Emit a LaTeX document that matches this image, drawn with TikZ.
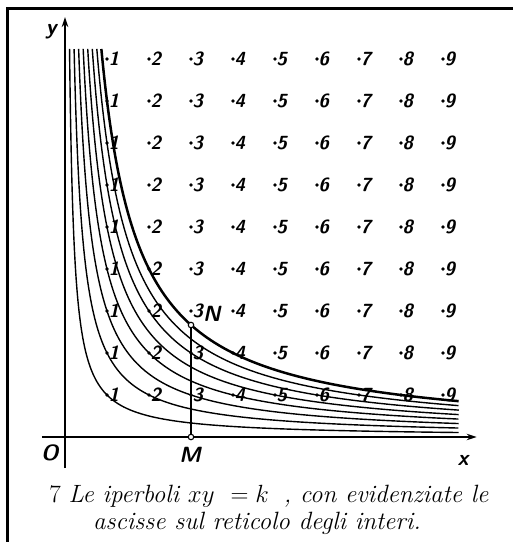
\documentclass[tikz,border=0pt]{standalone}
\usepackage{fontspec}
\usetikzlibrary{arrows.meta}
\newcommand{\bigmath}[1]{{\fontsize{30}{30}\selectfont$#1$}}
\begin{document}
\begin{tikzpicture}[x=1pt,y=1pt,
  digit/.style={font=\fontsize{19}{19}\selectfont\sffamily\bfseries\itshape, inner sep=0pt, anchor=west},
  axlab/.style={font=\fontsize{22}{22}\selectfont\sffamily\bfseries\itshape, inner sep=0pt},
  curve/.style={line width=1.4pt},
  thickcurve/.style={line width=2.5pt},
  axis/.style={line width=1.9pt, -{Stealth[length=10pt,width=6.5pt]}},
  hollow/.style={circle, draw, line width=1.1pt, fill=white, inner sep=0pt, minimum size=5.5pt},
  caption/.style={font=\fontsize{25}{29}\selectfont, inner sep=0pt}]
\useasboundingbox (0,0) rectangle (513,542);
% frame
\draw[line width=2.8pt] (7.3,-2) -- (7.3,533.3) -- (515,533.3);
\begin{scope}[shift={(65,105)}, x=42pt, y=42pt]
  % hyperbolas xy = k
  \foreach \k in {1,...,7}{
    \draw[curve, variable=\t, domain={ln(\k/9.24)}:{ln(9.38)}, samples=90, smooth]
      plot ({exp(\t)},{\k/exp(\t)});
  }
  \draw[thickcurve, variable=\t, domain={ln(8/9.24)}:{ln(9.38)}, samples=90, smooth]
      plot ({exp(\t)},{8/exp(\t)});
  % axes
  \coordinate (xs) at (-0.55,0);
  \coordinate (xe) at (9.8,0);
  \coordinate (ys) at (0,-0.74);
  \coordinate (ye) at (0,10.0);
  \draw[axis] (xs) -- (xe);
  \draw[axis] (ys) -- (ye);
  \node[axlab] (ylab) at (-0.33,9.64) {y};
  \node[axlab] (olab) at (-0.36,-0.38) {O};
  \node[axlab] (mlab) at (2.98,-0.42) {M};
  \node[axlab] (xlab) at (9.48,-0.55) {x};
  % lattice labels
  \foreach \i in {1,...,9}{
    \foreach \j in {1,...,9}{
      \fill (\i,\j) circle (1.8pt);
      \node[digit] (l-\i-\j) at ([xshift=1.5pt]\i,\j) {\i};
    }
  }
  % M and N
  \node[hollow] (M) at (3,0) {};
  \node[hollow] (N) at (3,8/3) {};
  \draw[line width=1.1pt] (M) -- (N);
  \node[axlab, anchor=west] (nlab) at ([xshift=12pt,yshift=11pt]N) {N};
\end{scope}
% caption
\node[caption] (cap1) at (269,46) {7 \textit{Le iperboli} \bigmath{xy\ = k}\ \ \textit{, con evidenziate le}};
\node[caption] (cap2) at (257,19) {\textit{ascisse sul reticolo degli interi.}};
\end{tikzpicture}
\end{document}
